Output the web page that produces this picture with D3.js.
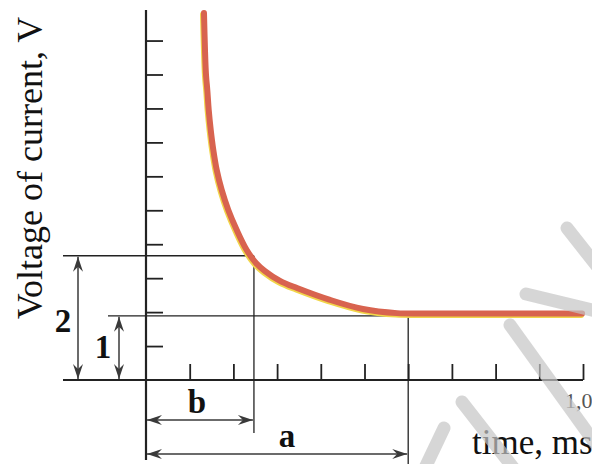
<!DOCTYPE html>
<html>
<head>
  <meta charset="utf-8">
  <title>Voltage decay over time</title>
  <script src="https://d3js.org/d3.v7.min.js"></script>
  <style>
    body {
      margin: 0;
      background: #fff;
    }

    text {
      font-family: "Liberation Serif", "DejaVu Serif", serif;
    }
  </style>
</head>
<body>
  <div id="chart"></div>

  <script>
    // time in ms, voltage in tick units
    var curveTime = [0.1327, 0.1350, 0.1373, 0.1403, 0.1435, 0.1481, 0.1540, 0.1618, 0.1732, 0.1883,
                     0.2076, 0.2304, 0.2517, 0.2723, 0.3066, 0.3455, 0.4211, 0.4966, 0.5744, 0.650, 0.998];
    var curveVolt = [10.81, 9.72, 8.99, 8.54, 7.96, 7.37, 6.78, 6.19, 5.60, 5.01,
                     4.42, 3.83, 3.45, 3.21, 2.92, 2.71, 2.36, 2.09, 1.97, 1.96, 1.96];

    var xTicks = [0.1, 0.2, 0.3, 0.4, 0.5, 0.6, 0.7, 0.8, 0.9, 1.0];
    var yTicks = [1, 2, 3, 4, 5, 6, 7, 8, 9, 10];
    var xEndLabel = "1,0";

    // the two marked levels and the two marked times
    var level2 = 3.66;
    var level1 = 1.89;
    var timeB = 0.247;
    var timeA = 0.60;

    var width = 592;
    var height = 464;

    var svg = d3.select("#chart")
      .append("svg")
      .attr("width", width)
      .attr("height", height);

    var x = d3.scaleLinear().domain([0, 1.0]).range([146, 583]);
    var y = d3.scaleLinear().domain([0, 10.9]).range([380, 10]);

    var ink = "#222";
    var arrowInk = "#3a3a3a";

    // arrowhead
    var defs = svg.append("defs");
    defs.append("marker")
      .attr("id", "head")
      .attr("viewBox", "-16 -6 18 12")
      .attr("refX", 0)
      .attr("refY", 0)
      .attr("markerWidth", 18)
      .attr("markerHeight", 12)
      .attr("markerUnits", "userSpaceOnUse")
      .attr("orient", "auto-start-reverse")
      .append("path")
      .attr("d", "M0,0 L-15,-5 L-10,0 L-15,5 Z")
      .attr("fill", arrowInk);

    // x axis with upward ticks
    var xAxis = svg.append("g")
      .attr("transform", "translate(0," + y(0) + ")")
      .call(d3.axisTop(x).tickValues(xTicks).tickSize(16).tickSizeOuter(0).tickFormat(""));
    xAxis.select(".domain").remove();
    xAxis.selectAll(".tick line").attr("stroke", ink).attr("stroke-width", 1.8);

    // y axis with ticks pointing right
    var yAxis = svg.append("g")
      .attr("transform", "translate(" + x(0) + ",0)")
      .call(d3.axisRight(y).tickValues(yTicks).tickSize(17).tickSizeOuter(0).tickFormat(""));
    yAxis.select(".domain").remove();
    yAxis.selectAll(".tick line").attr("stroke", ink).attr("stroke-width", 1.8);

    // axis lines plus their extension lines
    svg.append("line")
      .attr("x1", 63).attr("y1", y(0)).attr("x2", x(1.0)).attr("y2", y(0))
      .attr("stroke", ink).attr("stroke-width", 2.2);
    svg.append("line")
      .attr("x1", x(0)).attr("y1", y(10.9)).attr("x2", x(0)).attr("y2", 460)
      .attr("stroke", ink).attr("stroke-width", 2.2);

    // dimension lines
    var dims = svg.append("g").attr("stroke", ink).attr("stroke-width", 1.3);
    dims.append("line").attr("x1", 63).attr("y1", y(level2)).attr("x2", x(timeB)).attr("y2", y(level2));
    dims.append("line").attr("x1", 108).attr("y1", y(level1)).attr("x2", x(timeA)).attr("y2", y(level1));
    dims.append("line").attr("x1", x(timeB)).attr("y1", y(level2)).attr("x2", x(timeB)).attr("y2", 433);
    dims.append("line").attr("x1", x(timeA)).attr("y1", y(level1)).attr("x2", x(timeA)).attr("y2", height);

    // double arrows
    var arrows = svg.append("g")
      .attr("stroke", arrowInk)
      .attr("stroke-width", 1.5)
      .attr("marker-start", "url(#head)")
      .attr("marker-end", "url(#head)");
    arrows.append("line").attr("x1", 78).attr("y1", y(level2) + 1).attr("x2", 78).attr("y2", y(0) - 1);
    arrows.append("line").attr("x1", 119).attr("y1", y(level1) + 1).attr("x2", 119).attr("y2", y(0) - 1);
    arrows.append("line").attr("x1", x(0) + 1).attr("y1", 420).attr("x2", x(timeB) - 1).attr("y2", 420);
    arrows.append("line").attr("x1", x(0) + 1).attr("y1", 454).attr("x2", x(timeA) - 1).attr("y2", 454);

    // the curve: yellow fringe under a red line
    var points = curveTime.map(function(t, i) { return [t, curveVolt[i]]; });
    var line = d3.line()
      .x(function(d) { return x(d[0]); })
      .y(function(d) { return y(d[1]); })
      .curve(d3.curveCatmullRom.alpha(0.5));

    svg.append("path")
      .datum(points)
      .attr("d", line)
      .attr("transform", "translate(-1,1.5)")
      .attr("fill", "none")
      .attr("stroke", "#f1d54a")
      .attr("stroke-width", 6)
      .attr("stroke-linecap", "round");
    svg.append("path")
      .datum(points)
      .attr("d", line)
      .attr("fill", "none")
      .attr("stroke", "#d8634f")
      .attr("stroke-width", 6)
      .attr("stroke-linecap", "round");

    // labels
    svg.append("text")
      .attr("transform", "translate(42,168) rotate(-90)")
      .attr("text-anchor", "middle")
      .attr("font-size", 36)
      .attr("fill", "#111")
      .text("Voltage of current, V");

    svg.append("text")
      .attr("x", 472).attr("y", 454)
      .attr("font-size", 35)
      .attr("fill", "#111")
      .text("time, ms");

    svg.append("text")
      .attr("x", 565).attr("y", 408)
      .attr("font-size", 22)
      .attr("fill", "#555")
      .text(xEndLabel);

    var marks = [
      { t: "2", x: 63, y: 332 },
      { t: "1", x: 103, y: 358 },
      { t: "b", x: 197, y: 413 },
      { t: "a", x: 287, y: 447 }
    ];
    svg.selectAll(".mark")
      .data(marks)
      .enter()
      .append("text")
      .attr("class", "mark")
      .attr("x", function(d) { return d.x; })
      .attr("y", function(d) { return d.y; })
      .attr("text-anchor", "middle")
      .attr("font-size", 33)
      .attr("font-weight", "bold")
      .attr("fill", "#111")
      .text(function(d) { return d.t; });

    // watermark strokes, laid over everything
    var wm = svg.append("g")
      .attr("stroke", "#c4c4c4")
      .attr("stroke-opacity", 0.7)
      .attr("stroke-width", 13)
      .attr("stroke-linecap", "round")
      .attr("fill", "none");
    wm.append("line").attr("x1", 567).attr("y1", 228).attr("x2", 600).attr("y2", 270);
    wm.append("line").attr("x1", 526).attr("y1", 294).attr("x2", 600).attr("y2", 312);
    wm.append("line").attr("x1", 510).attr("y1", 325).attr("x2", 600).attr("y2", 450);
    wm.append("line").attr("x1", 462).attr("y1", 402).attr("x2", 515).attr("y2", 470);
    wm.append("line").attr("x1", 444).attr("y1", 428).attr("x2", 424).attr("y2", 470);
  </script>
</body>
</html>
